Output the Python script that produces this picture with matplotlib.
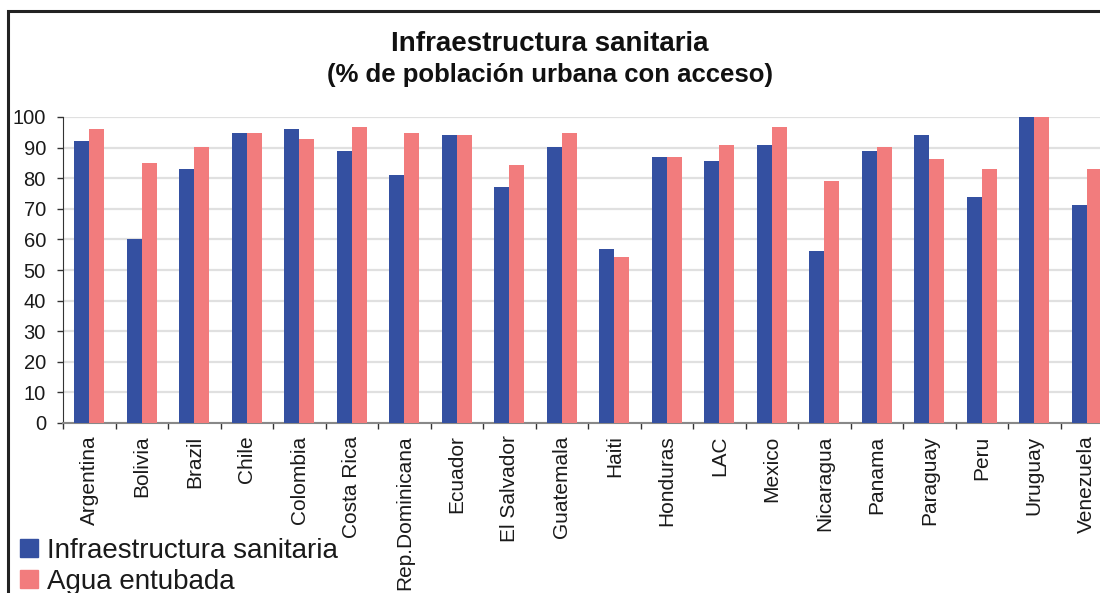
import numpy as np
import matplotlib
matplotlib.use("Agg")
import matplotlib.pyplot as plt
from matplotlib.patches import Rectangle, Patch

paises = ['Argentina', 'Bolivia', 'Brazil', 'Chile', 'Colombia', 'Costa Rica',
          'Rep.Dominicana', 'Ecuador', 'El Salvador', 'Guatemala', 'Haiti',
          'Honduras', 'LAC', 'Mexico', 'Nicaragua', 'Panama', 'Paraguay',
          'Peru', 'Uruguay', 'Venezuela']
sanitaria = [92, 60, 83, 94.7, 96, 88.8, 81, 94, 77, 90.1, 56.8,
             86.8, 85.5, 90.7, 56.1, 88.8, 94, 73.7, 100, 71.1]
agua = [96, 85, 90.1, 94.7, 92.7, 96.6, 94.7, 94, 84.2, 94.7, 54.1,
        86.8, 90.7, 96.6, 79, 90.1, 86.2, 82.9, 100, 82.9]
yticks = list(range(0, 101, 10))

plt.rcParams['font.family'] = ['Liberation Sans', 'DejaVu Sans']
azul = '#3450a1'
rosa = '#f27c7d'
texto = '#1a1a1a'

fig = plt.figure(figsize=(11, 5.93), dpi=100)
W, H = 1100, 593
# eje: izquierda 63px, 0 en y=423, 100 en y=117, 52.5 px por categoria
ax = fig.add_axes([63 / W, (H - 423) / H, 20 * 52.5 / W, (423 - 117) / H])

x = np.arange(len(paises))
bw = 0.285
ax.bar(x - bw / 2, sanitaria, bw, color=azul, zorder=3)
ax.bar(x + bw / 2, agua, bw, color=rosa, zorder=3)

ax.set_xlim(-0.5, len(paises) - 0.5)
ax.set_ylim(0, 100)
ax.set_yticks(yticks)
ax.set_yticklabels([str(v) for v in yticks], fontsize=14.5, color=texto)
ax.yaxis.grid(True, color='#e0e0e0', lw=1.6, zorder=0)

ax.set_xticks(x)
ax.set_xticklabels(paises, rotation=90, fontsize=15, color=texto, va='top')
ax.tick_params(axis='x', which='major', length=0, pad=9)
ax.set_xticks(np.arange(-0.5, len(paises), 1), minor=True)
ax.tick_params(axis='x', which='minor', length=4, width=1, color='#333333', direction='out')
ax.tick_params(axis='y', length=4.3, width=1, color='#333333', pad=8)

for s in ['top', 'right']:
    ax.spines[s].set_visible(False)
ax.spines['left'].set_color('#333333')
ax.spines['bottom'].set_color('#888888')
ax.spines['bottom'].set_linewidth(1.5)

fig.text(550 / W, 1 - 51 / H, 'Infraestructura sanitaria', ha='center', va='baseline',
         fontsize=20, fontweight='bold', color='#111111')
fig.text(550 / W, 1 - 82 / H, '(% de población urbana con acceso)', ha='center', va='baseline',
         fontsize=18.5, fontweight='bold', color='#111111')

handles = [Patch(color=azul), Patch(color=rosa)]
fig.legend(handles, ['Infraestructura sanitaria', 'Agua entubada'],
           loc='lower left', bbox_to_anchor=(1 / W, -21 / H), frameon=False,
           fontsize=20, handlelength=0.63, handleheight=0.63, handletextpad=0.32,
           labelspacing=0.17, borderpad=0.2, labelcolor=texto)

# marco del grafico
fig.patches.append(Rectangle((7.5 / W, -0.1), 1.2, 1 - 11 / H + 0.1, transform=fig.transFigure,
                             fill=False, edgecolor='#222222', lw=2.2))

fig.savefig('out.png', dpi=100)
